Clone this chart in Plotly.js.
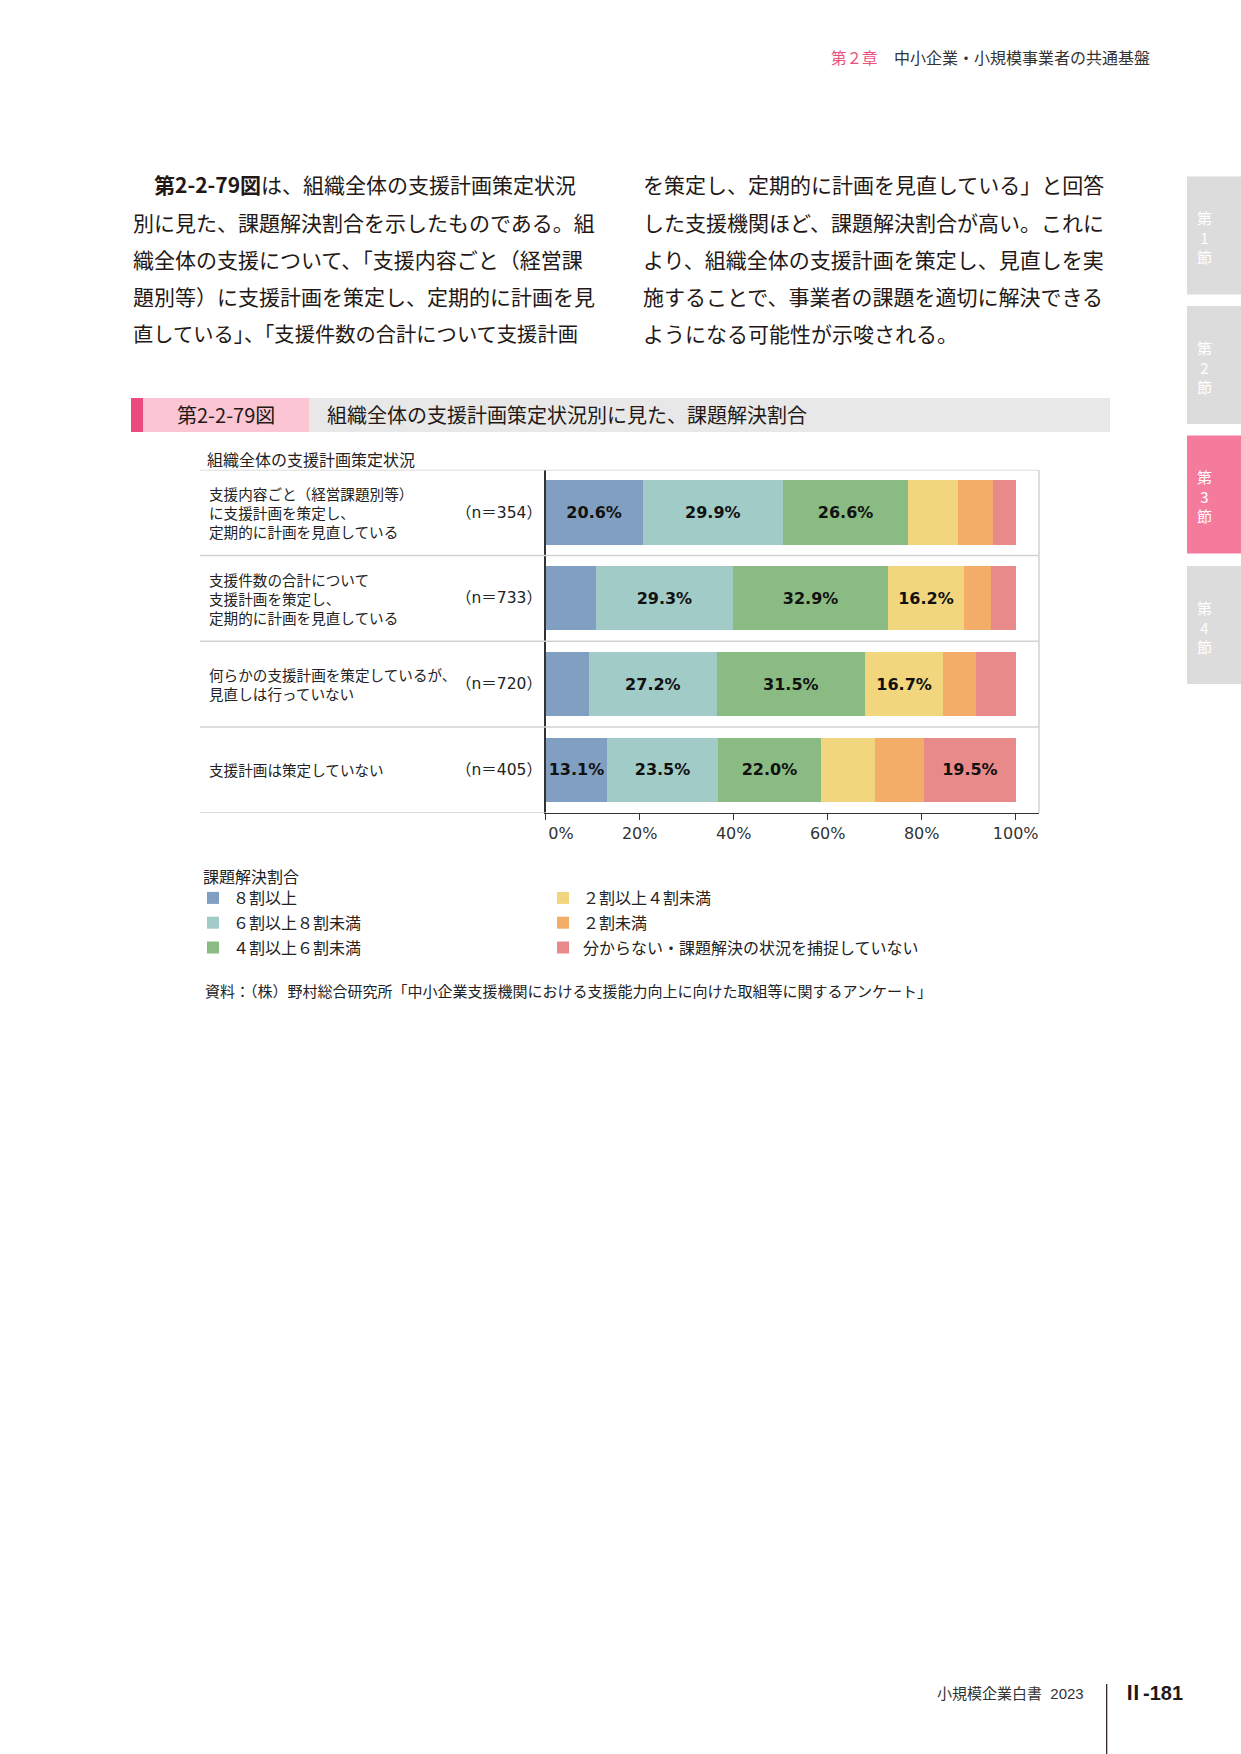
<!DOCTYPE html>
<html><head><meta charset="utf-8">
<script src="https://cdn.plot.ly/plotly-3.0.1.min.js"></script>
<style>html,body{margin:0;padding:0;background:#fff}#chart{width:1241px;height:1754px}</style>
</head><body><div id="chart"></div>
<script>
// ---- data ----
const categories = [
  '支援内容ごと（経営課題別等）に支援計画を策定し、定期的に計画を見直している',
  '支援件数の合計について支援計画を策定し、定期的に計画を見直している',
  '何らかの支援計画を策定しているが、見直しは行っていない',
  '支援計画は策定していない'
];
const rowLabels = [
  '支援内容ごと（経営課題別等）<br>に支援計画を策定し、<br>定期的に計画を見直している',
  '支援件数の合計について<br>支援計画を策定し、<br>定期的に計画を見直している',
  '何らかの支援計画を策定しているが、<br>見直しは行っていない',
  '支援計画は策定していない'
];
const nLabels = ['（n＝354）', '（n＝733）', '（n＝720）', '（n＝405）'];
const seriesNames = ['８割以上', '６割以上８割未満', '４割以上６割未満', '２割以上４割未満', '２割未満', '分からない・課題解決の状況を捕捉していない'];
const s80plus   = [20.6, 10.6,  9.2, 13.1];
const s60to80   = [29.9, 29.3, 27.2, 23.5];
const s40to60   = [26.6, 32.9, 31.5, 22.0];
const s20to40   = [10.6, 16.2, 16.7, 11.4];
const sUnder20  = [ 7.4,  5.7,  6.9, 10.5];
const sUnknown  = [ 4.9,  5.3,  8.5, 19.5];
const xTickVals = [0, 20, 40, 60, 80, 100];
const xTickText = ['\u2007\u2007\u20070%', '20%', '40%', '60%', '80%', '100%'];
const legendTitle = '課題解決割合';
const axisHeader = '組織全体の支援計画策定状況';
const figNumber = '第2-2-79図';
const figTitle = '組織全体の支援計画策定状況別に見た、課題解決割合';
const sourceText = '資料：（株）野村総合研究所「中小企業支援機関における支援能力向上に向けた取組等に関するアンケート」';
const bodyLeft = [
  '<b>第2-2-79図</b>は、組織全体の支援計画策定状況',
  '別に見た、課題解決割合を示したものである。組',
  '織全体の支援について、「支援内容ごと（経営課',
  '題別等）に支援計画を策定し、定期的に計画を見',
  '直している」、「支援件数の合計について支援計画'
];
const bodyRight = [
  'を策定し、定期的に計画を見直している」と回答',
  'した支援機関ほど、課題解決割合が高い。これに',
  'より、組織全体の支援計画を策定し、見直しを実',
  '施することで、事業者の課題を適切に解決できる',
  'ようになる可能性が示唆される。'
];
const chapterNo = '第２章';
const chapterTitle = '中小企業・小規模事業者の共通基盤';
const tabLabels = ['第<br>1<br>節', '第<br>2<br>節', '第<br>3<br>節', '第<br>4<br>節'];
const footerBook = '小規模企業白書  2023';
const footerPage = 'Ⅱ-181';

// ---- style ----
const colors = ['#819fc0', '#a1cbc7', '#89bb83', '#f1d67e', '#f3ad68', '#e88a89'];
const W = 1241, H = 1754;
const X = p => p / W, Y = p => 1 - p / H;
const CJK = '"Noto Sans CJK JP", sans-serif';
const MIX = '"DejaVu Sans", "Noto Sans CJK JP", sans-serif';
const plotL = 545.7, plotR = 1039, plotT = 469.7, plotB = 812.7, pxPerPct = 4.7;

const series = [s80plus, s60to80, s40to60, s20to40, sUnder20, sUnknown];
const traces = series.map((vals, i) => ({
  type: 'bar', orientation: 'h',
  name: seriesNames[i],
  x: vals, y: categories,
  marker: {color: colors[i], line: {width: 0}},
  text: vals.map(v => v >= 13 ? v.toFixed(1) + '%' : ''),
  textposition: 'inside', insidetextanchor: 'middle', textangle: 0,
  constraintext: 'none',
  textfont: {family: '"DejaVu Sans", sans-serif', size: 16, color: '#111', weight: 700},
  hoverinfo: 'skip',
  legend: i < 3 ? 'legend' : 'legend2',
  legendgroup: 'g' + i
}));

const shapes = [];
const annotations = [];
// chart frame / separators
[-0.5, 0.5, 1.5, 2.5].forEach(v => shapes.push({type: 'line', xref: 'paper', yref: 'y', x0: X(200), x1: X(plotR), y0: v, y1: v, line: {color: '#d2d2d2', width: 1.5}}));
shapes.push({type: 'line', xref: 'paper', yref: 'y', x0: X(200), x1: X(plotL), y0: 3.5, y1: 3.5, line: {color: '#d2d2d2', width: 1.5}});
shapes.push({type: 'line', xref: 'paper', yref: 'y', x0: X(plotR), x1: X(plotR), y0: -0.5, y1: 3.5, line: {color: '#d2d2d2', width: 1.5}});

// row labels
categories.forEach((c, i) => {
  annotations.push({xref: 'paper', yref: 'y', x: X(207), y: c, xanchor: 'left', yanchor: 'middle', align: 'left', showarrow: false,
    text: rowLabels[i], font: {family: CJK, size: 14.6, color: '#222'}});
  annotations.push({xref: 'paper', yref: 'y', x: X(543.5), y: c, xanchor: 'right', yanchor: 'middle', showarrow: false,
    text: nLabels[i], font: {family: MIX, size: 15.5, color: '#222'}});
});
annotations.push({xref: 'paper', yref: 'paper', x: X(205), y: Y(459.5), xanchor: 'left', yanchor: 'middle', showarrow: false,
  text: axisHeader, font: {family: CJK, size: 16, color: '#222'}});

// legend title
annotations.push({xref: 'paper', yref: 'paper', x: X(201), y: Y(876), xanchor: 'left', yanchor: 'middle', showarrow: false,
  text: legendTitle, font: {family: CJK, size: 16, color: '#222'}});

// source
annotations.push({xref: 'paper', yref: 'paper', x: X(203), y: Y(990), xanchor: 'left', yanchor: 'middle', showarrow: false,
  text: sourceText, font: {family: CJK, size: 15, color: '#222'}});

// figure title band
shapes.push({type: 'rect', xref: 'paper', yref: 'paper', x0: X(131), x1: X(143), y0: Y(398), y1: Y(432), line: {width: 0}, fillcolor: '#ea4a7c'});
shapes.push({type: 'rect', xref: 'paper', yref: 'paper', x0: X(143), x1: X(309), y0: Y(398), y1: Y(432), line: {width: 0}, fillcolor: '#fbc5d3'});
shapes.push({type: 'rect', xref: 'paper', yref: 'paper', x0: X(309), x1: X(1110), y0: Y(398), y1: Y(432), line: {width: 0}, fillcolor: '#e8e8e8'});
annotations.push({xref: 'paper', yref: 'paper', x: X(226), y: Y(415), xanchor: 'center', yanchor: 'middle', showarrow: false,
  text: figNumber, font: {family: CJK, size: 20, color: '#231815'}});
annotations.push({xref: 'paper', yref: 'paper', x: X(325), y: Y(415), xanchor: 'left', yanchor: 'middle', showarrow: false,
  text: figTitle, font: {family: CJK, size: 20, color: '#231815'}});

// body text
bodyLeft.forEach((t, i) => annotations.push({xref: 'paper', yref: 'paper', x: X(i === 0 ? 152 : 131), y: Y(184.5 + i * 37.2), xanchor: 'left', yanchor: 'middle', showarrow: false,
  text: t, font: {family: CJK, size: i === 4 ? 20.3 : 21, color: '#231815'}}));
bodyRight.forEach((t, i) => annotations.push({xref: 'paper', yref: 'paper', x: X(641), y: Y(184.5 + i * 37.2), xanchor: 'left', yanchor: 'middle', showarrow: false,
  text: t, font: {family: CJK, size: 21, color: '#231815'}}));

// page header
annotations.push({xref: 'paper', yref: 'paper', x: X(829), y: Y(57), xanchor: 'left', yanchor: 'middle', showarrow: false,
  text: chapterNo, font: {family: CJK, size: 15.5, color: '#e9527e'}});
annotations.push({xref: 'paper', yref: 'paper', x: X(892), y: Y(57), xanchor: 'left', yanchor: 'middle', showarrow: false,
  text: chapterTitle, font: {family: CJK, size: 16, color: '#333'}});

// side tabs
const tabTops = [176.5, 306, 435.5, 566];
tabTops.forEach((t, i) => {
  shapes.push({type: 'rect', xref: 'paper', yref: 'paper', x0: X(1187), x1: X(1241), y0: Y(t), y1: Y(t + 118), line: {width: 0},
    fillcolor: i === 2 ? '#f57b9d' : '#dcdcdc'});
  annotations.push({xref: 'paper', yref: 'paper', x: X(1204), y: Y(t + 60.5), xanchor: 'center', yanchor: 'middle', showarrow: false,
    text: tabLabels[i], font: {family: CJK, size: 15, color: '#ffffff'}});
});

// footer
shapes.push({type: 'line', xref: 'paper', yref: 'paper', x0: X(1106.7), x1: X(1106.7), y0: Y(1684), y1: Y(1754), line: {color: '#231815', width: 1.2}});
annotations.push({xref: 'paper', yref: 'paper', x: X(935), y: Y(1693), xanchor: 'left', yanchor: 'middle', showarrow: false,
  text: footerBook, font: {family: '"Liberation Sans", "Noto Sans CJK JP", sans-serif', size: 15, color: '#333'}});
annotations.push({xref: 'paper', yref: 'paper', x: X(1121), y: Y(1693), xanchor: 'left', yanchor: 'middle', showarrow: false,
  text: '<b>' + footerPage + '</b>', font: {family: '"Liberation Sans", "Noto Sans CJK JP", sans-serif', size: 20, color: '#231815'}});

const legendCommon = {
  orientation: 'v', xanchor: 'left', yanchor: 'top', traceorder: 'grouped', tracegroupgap: 1,
  bgcolor: 'rgba(0,0,0,0)', borderwidth: 0,
  font: {family: CJK, size: 16, color: '#222'}
};

const layout = {
  width: W, height: H,
  margin: {l: 0, r: 0, t: 0, b: 0},
  paper_bgcolor: '#ffffff', plot_bgcolor: 'rgba(0,0,0,0)',
  barmode: 'stack', bargap: 0.25,
  showlegend: true,
  xaxis: {
    domain: [X(plotL), X(plotR)], range: [0, (plotR - plotL) / pxPerPct],
    tickmode: 'array', tickvals: xTickVals, ticktext: xTickText,
    ticks: 'outside', ticklen: 6, tickwidth: 1.2, tickcolor: '#333',
    showline: true, linecolor: '#333', linewidth: 1.5,
    showgrid: false, zeroline: false, fixedrange: true,
    tickfont: {family: '"DejaVu Sans", sans-serif', size: 16, color: '#333'}
  },
  yaxis: {
    domain: [Y(plotB), Y(plotT)], type: 'category', categoryorder: 'array', categoryarray: categories,
    range: [3.5, -0.5], showticklabels: false, ticks: '',
    showline: true, linecolor: '#333', linewidth: 1.5, showgrid: false, zeroline: false, fixedrange: true
  },
  legend: Object.assign({}, legendCommon, {x: X(193), y: Y(881)}),
  legend2: Object.assign({}, legendCommon, {x: X(543), y: Y(881)}),
  uniformtext: {mode: 'show', minsize: 16},
  shapes: shapes,
  annotations: annotations
};

Plotly.newPlot('chart', traces, layout, {displayModeBar: false, staticPlot: true});
</script>
</body></html>
